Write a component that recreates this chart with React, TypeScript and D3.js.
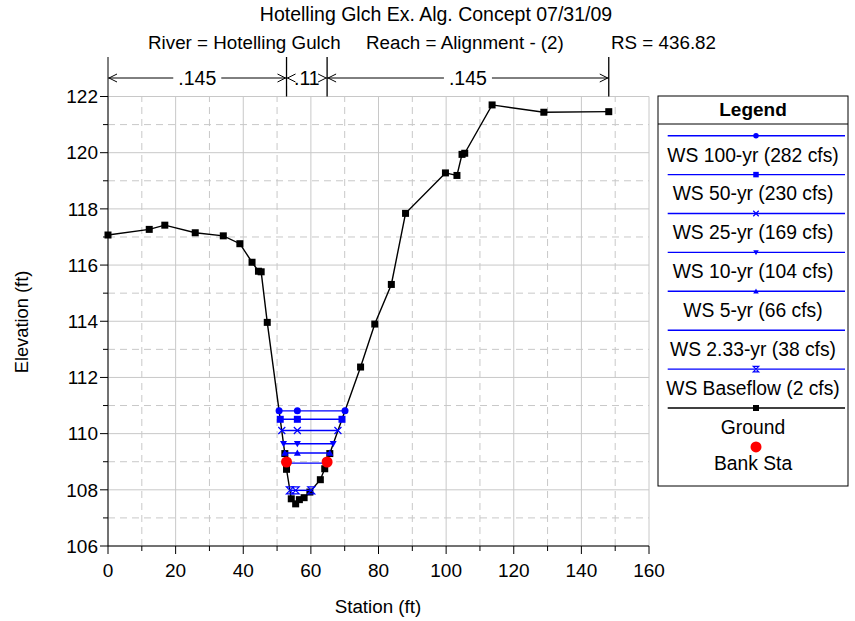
import React from "react";
import * as d3 from "d3";

const titleLine = "Hotelling Glch Ex. Alg. Concept 07/31/09";
const subRiver = "River = Hotelling Gulch";
const subReach = "Reach = Alignment - (2)";
const subRS = "RS = 436.82";

const groundStation = [0, 12.2, 16.8, 25.8, 34.1, 39.0, 42.6, 44.5, 45.3, 47.1, 52.3, 52.8, 54.2, 55.5, 56.6, 58.0, 59.7, 62.8, 64.1, 65.6, 74.7, 78.9, 83.8, 88.0, 99.8, 103.2, 104.7, 105.5, 113.6, 128.9, 148.1];
const groundElev = [117.07, 117.27, 117.42, 117.15, 117.04, 116.76, 116.1, 115.78, 115.76, 113.96, 109.29, 108.73, 107.68, 107.5, 107.65, 107.72, 107.92, 108.36, 108.75, 109.29, 112.37, 113.9, 115.31, 117.84, 119.28, 119.19, 119.94, 119.98, 121.7, 121.44, 121.46];

const wsNames = ["WS 100-yr (282 cfs)", "WS 50-yr (230 cfs)", "WS 25-yr (169 cfs)", "WS 10-yr (104 cfs)", "WS 5-yr (66 cfs)", "WS 2.33-yr (38 cfs)", "WS Baseflow (2 cfs)"];
const wsElev = [110.81, 110.51, 110.11, 109.64, 109.31, 108.95, 107.98];
const wsLeft = [50.6, 50.94, 51.4, 51.9, 52.3, 52.6, 53.8];
const wsMid = [56.0, 56.0, 56.0, 56.0, 56.0, 56.0, 55.5];
const wsRight = [70.1, 69.2, 68.0, 66.6, 65.6, 64.65, 60.1];
const wsMarkers = ["circle", "square", "x", "triDown", "triUp", "none", "hourglass"];

const bankStations = [52.8, 64.8];
const bankElev = [108.99, 108.99];
const nValues = [".145", ".11", ".145"];

const xTicks = [0, 20, 40, 60, 80, 100, 120, 140, 160];
const xMinor = [10, 30, 50, 70, 90, 110, 130, 150];
const yTicks = [106, 108, 110, 112, 114, 116, 118, 120, 122];
const yMinor = [107, 109, 111, 113, 115, 117, 119, 121];

const FONT = "'Liberation Sans', Arial, sans-serif";
const BLUE = "#0000ff";

function Marker({ type, x, y, color, s }: { type: string; x: number; y: number; color: string; s: number }) {
  const h = s / 2;
  switch (type) {
    case "circle":
      return <circle cx={x} cy={y} r={h} fill={color} />;
    case "square":
      return <rect x={x - h} y={y - h} width={s} height={s} fill={color} />;
    case "x":
      return (
        <path d={`M${x - h},${y - h}L${x + h},${y + h}M${x - h},${y + h}L${x + h},${y - h}`} stroke={color} strokeWidth={1.2} fill="none" />
      );
    case "triDown":
      return <path d={`M${x - h},${y - h * 0.8}L${x + h},${y - h * 0.8}L${x},${y + h}Z`} fill={color} />;
    case "triUp":
      return <path d={`M${x - h},${y + h * 0.8}L${x + h},${y + h * 0.8}L${x},${y - h}Z`} fill={color} />;
    case "hourglass":
      return (
        <path d={`M${x - h},${y - h}L${x + h},${y - h}L${x - h},${y + h}L${x + h},${y + h}Z`} stroke={color} strokeWidth={1.2} fill="none" />
      );
    default:
      return null;
  }
}

export default function App() {
  const W = 855, H = 621;
  const x = d3.scaleLinear().domain([0, 160]).range([108, 649]);
  const y = d3.scaleLinear().domain([106, 122]).range([546, 96.5]);

  const groundPts: [number, number][] = groundStation.map((s, i) => [x(s), y(groundElev[i])]);
  const line = d3.line();

  const annY = 78;
  const annTop = 57;
  const bounds = [0, ...bankStations, groundStation[groundStation.length - 1]];

  const legX0 = 658, legX1 = 848, legY0 = 96, legY1 = 486;
  const legCx = (legX0 + legX1) / 2;
  const legLineY0 = 135.7;
  const legStep = 38.9;
  const legFont = 19.3;

  return (
    <svg width={W} height={H} style={{ display: "block", position: "absolute", left: 0, top: 0 }} fontFamily={FONT}>
      <rect width={W} height={H} fill="#fff" />
      {/* titles */}
      <text x={436} y={21} fontSize={19.5} textAnchor="middle" fill="#000">{titleLine}</text>
      <text x={148} y={49} fontSize={18.8} fill="#000">{subRiver}</text>
      <text x={366} y={49} fontSize={18.8} fill="#000">{subReach}</text>
      <text x={716} y={49} fontSize={18.8} textAnchor="end" fill="#000">{subRS}</text>

      {/* grid */}
      {xMinor.map((t) => (
        <line key={"xm" + t} x1={x(t)} x2={x(t)} y1={y(106)} y2={y(122)} stroke="#c8c8c8" strokeDasharray="7,5" />
      ))}
      {yMinor.map((t) => (
        <line key={"ym" + t} x1={x(0)} x2={x(160)} y1={y(t)} y2={y(t)} stroke="#c8c8c8" strokeDasharray="7,5" />
      ))}
      {xTicks.map((t) => (
        <line key={"xg" + t} x1={x(t)} x2={x(t)} y1={y(106)} y2={y(122)} stroke="#c8c8c8" />
      ))}
      {yTicks.map((t) => (
        <line key={"yg" + t} x1={x(0)} x2={x(160)} y1={y(t)} y2={y(t)} stroke="#c8c8c8" />
      ))}

      {/* axes */}
      <line x1={x(0)} x2={x(0)} y1={annTop} y2={y(106)} stroke="#000" />
      <line x1={x(0)} x2={x(160)} y1={y(106)} y2={y(106)} stroke="#000" />
      {yTicks.map((t) => (
        <g key={"yt" + t}>
          <line x1={x(0) - 8} x2={x(0)} y1={y(t)} y2={y(t)} stroke="#000" />
          <text x={98} y={y(t) + 6.8} fontSize={19} textAnchor="end" fill="#000">{t}</text>
        </g>
      ))}
      {yMinor.map((t) => (
        <line key={"ymt" + t} x1={x(0) - 5} x2={x(0)} y1={y(t)} y2={y(t)} stroke="#000" />
      ))}
      {xTicks.map((t) => (
        <g key={"xt" + t}>
          <line x1={x(t)} x2={x(t)} y1={y(106)} y2={y(106) + 8} stroke="#000" />
          <text x={x(t)} y={577} fontSize={19} textAnchor="middle" fill="#000">{t}</text>
        </g>
      ))}
      {xMinor.map((t) => (
        <line key={"xmt" + t} x1={x(t)} x2={x(t)} y1={y(106)} y2={y(106) + 5} stroke="#000" />
      ))}
      <text x={378} y={613} fontSize={18.8} textAnchor="middle" fill="#000">Station (ft)</text>
      <text transform={`translate(28,${322}) rotate(-90)`} fontSize={18.3} textAnchor="middle" fill="#000">Elevation (ft)</text>

      {/* Manning's n annotation */}
      {bounds.slice(1).map((b, i) => (
        <line key={"vb" + i} x1={x(b)} x2={x(b)} y1={annTop} y2={y(122)} stroke="#000" strokeWidth={1.3} />
      ))}
      <line x1={x(bounds[0])} x2={x(bounds[3])} y1={annY} y2={annY} stroke="#000" />
      {nValues.map((n, i) => {
        const a = x(bounds[i]);
        const b = x(bounds[i + 1]);
        const cx = (a + b) / 2;
        const tw = n.length * 10;
        return (
          <g key={"n" + i}>
            <rect x={cx - tw / 2 - 4} y={annY - 8} width={tw + 8} height={16} fill="#fff" />
            <text x={cx} y={annY + 7} fontSize={19.5} textAnchor="middle" fill="#000">{n}</text>
            <path d={`M${a + 9},${annY - 4}L${a + 1},${annY}L${a + 9},${annY + 4}`} stroke="#000" fill="none" />
            <path d={`M${b - 9},${annY - 4}L${b - 1},${annY}L${b - 9},${annY + 4}`} stroke="#000" fill="none" />
          </g>
        );
      })}

      {/* ground */}
      <path d={line(groundPts) || ""} stroke="#000" strokeWidth={1.4} fill="none" />
      {groundPts.map((p, i) => (
        <rect key={"g" + i} x={p[0] - 3.5} y={p[1] - 3.5} width={7} height={7} fill="#000" />
      ))}

      {/* water surfaces */}
      {wsElev.map((e, i) => {
        const yy = y(e);
        const pts = [wsLeft[i], wsMid[i], wsRight[i]];
        return (
          <g key={"ws" + i}>
            <line x1={x(wsLeft[i])} x2={x(wsRight[i])} y1={yy} y2={yy} stroke={BLUE} strokeWidth={1.4} />
            {pts.map((s, j) => (
              <Marker key={j} type={wsMarkers[i]} x={x(s)} y={yy} color={BLUE} s={7} />
            ))}
          </g>
        );
      })}

      {/* bank stations */}
      {bankStations.map((s, i) => (
        <circle key={"b" + i} cx={x(s)} cy={y(bankElev[i])} r={5.5} fill="#ff0000" />
      ))}

      {/* legend */}
      <rect x={legX0} y={legY0} width={legX1 - legX0} height={legY1 - legY0} fill="#fff" stroke="#000" strokeWidth={1} />
      <line x1={legX0} x2={legX1} y1={124} y2={124} stroke="#000" />
      <text x={legCx} y={116} fontSize={19} fontWeight="bold" textAnchor="middle" fill="#000">Legend</text>
      {wsNames.map((nm, i) => {
        const ly = legLineY0 + i * legStep;
        return (
          <g key={"l" + i}>
            <line x1={667.7} x2={845} y1={ly} y2={ly} stroke={BLUE} strokeWidth={1.4} />
            <Marker type={wsMarkers[i]} x={756} y={ly} color={BLUE} s={5.5} />
            <text x={legCx} y={ly + 25.8} fontSize={legFont} textAnchor="middle" fill="#000">{nm}</text>
          </g>
        );
      })}
      {(() => {
        const ly = legLineY0 + 7 * legStep;
        return (
          <g>
            <line x1={667.7} x2={845} y1={ly} y2={ly} stroke="#000" strokeWidth={1.4} />
            <rect x={756 - 3} y={ly - 3} width={6} height={6} fill="#000" />
            <text x={legCx} y={ly + 25.5} fontSize={legFont} textAnchor="middle" fill="#000">Ground</text>
            <circle cx={756} cy={ly + legStep} r={5.5} fill="#ff0000" />
            <text x={legCx} y={ly + legStep + 23} fontSize={legFont} textAnchor="middle" fill="#000">Bank Sta</text>
          </g>
        );
      })()}
    </svg>
  );
}
